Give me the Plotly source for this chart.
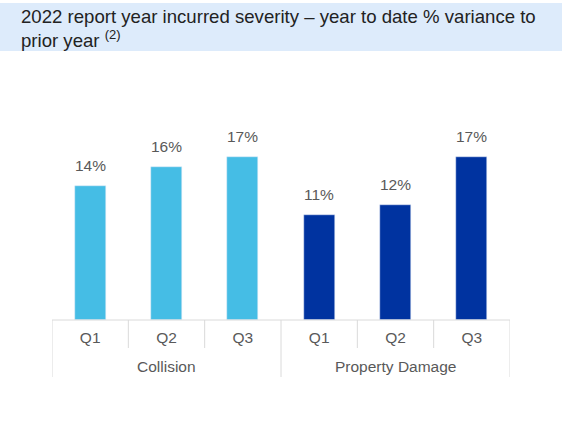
import plotly.graph_objects as go

groups = ["Collision", "Property Damage"]
quarters = ["Q1", "Q2", "Q3"]
collision = [14, 16, 17]
property_damage = [11, 12, 17]

title_txt = ("2022 report year incurred severity \u2013 year to date % variance to<br>"
             "prior year <sup>(2)</sup>")

W, H = 562, 434
m_l, m_r, m_t, m_b = 52, 52, 110, 114
ph = H - m_t - m_b
pw = W - m_l - m_r
px_per_pct = 9.57
y_top = ph / px_per_pct

light = "#45BDE5"
dark = "#0033A0"
txtc = "#595959"
linec = "#DADADA"
fsz = 15.5

fig = go.Figure()

xs_c = [i + 0.5 for i in range(3)]
xs_p = [i + 3.5 for i in range(3)]
fig.add_trace(go.Bar(x=xs_c, y=collision, marker_color=light, width=0.41, name="Collision"))
fig.add_trace(go.Bar(x=xs_p, y=property_damage, marker_color=dark, width=0.41, name="Property Damage"))

# value labels above bars
for x, v in list(zip(xs_c, collision)) + list(zip(xs_p, property_damage)):
    fig.add_annotation(x=x, y=v, text=f"{v}%", showarrow=False, yanchor="bottom",
                       yshift=10, font=dict(size=fsz, color=txtc))

# group labels
for i, g in enumerate(groups):
    fig.add_annotation(x=i * 3 + 1.5, y=-46 / ph, yref="paper", yanchor="middle",
                       text=g, showarrow=False, font=dict(size=fsz, color=txtc))

# axis box lines
fig.add_shape(type="line", xref="x", yref="paper", x0=0, x1=6, y0=0, y1=0,
              line=dict(color=linec, width=1))
for k in range(7):
    y1 = -57 / ph if k % 3 == 0 else -28 / ph
    fig.add_shape(type="line", xref="x", yref="paper", x0=k, x1=k, y0=0, y1=y1,
                  line=dict(color=linec, width=1))

# title band
fig.add_shape(type="rect", xref="paper", yref="paper", layer="below",
              x0=-m_l / pw, x1=(W - m_l) / pw,
              y0=(H - m_b - 51) / ph, y1=(H - m_b - 3) / ph,
              fillcolor="#DDEBFB", line=dict(width=0))

# title
fig.add_annotation(text=title_txt, xref="paper", yref="paper", showarrow=False,
                   x=-33 / pw, y=(H - m_b - 4) / ph, xanchor="left", yanchor="top",
                   align="left", font=dict(size=18.6, color="#222222"))

fig.update_layout(
    width=W, height=H,
    margin=dict(l=m_l, r=m_r, t=m_t, b=m_b),
    paper_bgcolor="white", plot_bgcolor="white",
    showlegend=False,
    font=dict(family="Liberation Sans, Arial, sans-serif", color=txtc),
    xaxis=dict(range=[0, 6], tickvals=xs_c + xs_p, ticktext=quarters * 2,
               showgrid=False, zeroline=False, showline=False,
               ticks="outside", ticklen=3, tickcolor="rgba(0,0,0,0)",
               tickfont=dict(size=fsz, color=txtc)),
    yaxis=dict(range=[0, y_top], visible=False),
    bargap=0,
)

fig.write_html("out.html", config={"displayModeBar": False},
               post_script="document.body.style.margin='0';")
